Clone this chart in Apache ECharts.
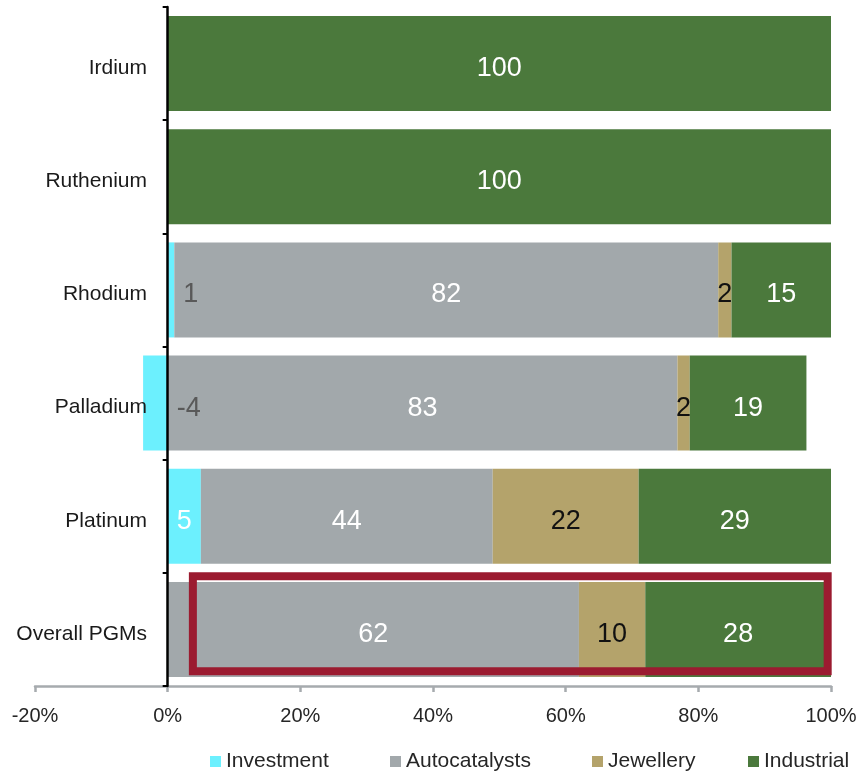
<!DOCTYPE html>
<html>
<head>
<meta charset="utf-8">
<script src="https://cdn.jsdelivr.net/npm/echarts@6/dist/echarts.min.js"></script>
<style>
  html, body { margin: 0; padding: 0; background: #ffffff; }
  #chart { width: 860px; height: 772px; }
</style>
</head>
<body>
<div id="chart"></div>
<script>
// Demand split by end use, per metal (raw shares, %)
const metals = ['Irdium', 'Ruthenium', 'Rhodium', 'Palladium', 'Platinum', 'Overall PGMs'];
const investment    = [0, 0, 1, -4, 5, 0];
const autocatalysts = [0, 0, 82, 83, 44, 62];
const jewellery     = [0, 0, 2, 2, 22, 10];
const industrial    = [100, 100, 15, 19, 29, 28];
const xTickValues   = [-20, 0, 20, 40, 60, 80, 100];

const FONT = '"Liberation Sans", Arial, sans-serif';

// 100% stacked layout: each segment is its share of the sum of absolute values
const totals = metals.map((_, i) =>
  Math.abs(investment[i]) + Math.abs(autocatalysts[i]) + Math.abs(jewellery[i]) + Math.abs(industrial[i]));
const share = (arr) => arr.map((v, i) => v / totals[i] * 100);

const seriesDefs = [
  { name: 'Investment',    raw: investment,    color: '#6CF0FE', text: '#ffffff' },
  { name: 'Autocatalysts', raw: autocatalysts, color: '#A2A8AB', text: '#ffffff' },
  { name: 'Jewellery',     raw: jewellery,     color: '#B4A36B', text: '#111111' },
  { name: 'Industrial',    raw: industrial,    color: '#4B793C', text: '#ffffff' }
];

const series = seriesDefs.map(def => {
  const pct = share(def.raw);
  return {
    name: def.name,
    type: 'bar',
    stack: 'total',
    barCategoryGap: '16%',
    itemStyle: { color: def.color },
    emphasis: { disabled: true },
    data: pct.map((p) => {
      const item = { value: p };
      // slim investment slivers get their label just beside the bar
      if (def.name === 'Investment' && Math.abs(p) < 4.5) {
        item.label = { position: 'right', distance: 9, color: '#595959' };
      }
      return item;
    }),
    label: {
      show: true,
      position: 'inside',
      offset: [0, 5],
      color: def.text,
      fontFamily: FONT,
      fontSize: 27,
      formatter: (params) => {
        const v = def.raw[params.dataIndex];
        return v === 0 ? '' : String(v);
      }
    }
  };
});

const chart = echarts.init(document.getElementById('chart'), null, { renderer: 'canvas' });

const legendLeft = [205, 385, 587, 743];
const legends = seriesDefs.map((def, k) => ({
  data: [def.name],
  left: legendLeft[k],
  top: 746,
  itemWidth: 11,
  itemHeight: 11,
  icon: 'rect',
  selectedMode: false,
  textStyle: { fontFamily: FONT, fontSize: 21, color: '#262626' }
}));

chart.setOption({
  animation: false,
  backgroundColor: '#ffffff',
  grid: { left: 35, right: 29, top: 7, bottom: 86, outerBoundsMode: 'none' },
  legend: legends,
  xAxis: {
    type: 'value',
    min: xTickValues[0],
    max: xTickValues[xTickValues.length - 1],
    interval: xTickValues[1] - xTickValues[0],
    splitLine: { show: false },
    axisLine: { show: true, lineStyle: { color: '#A6ABAE', width: 2.5 } },
    axisTick: { show: true, length: 6, lineStyle: { color: '#A6ABAE', width: 2.5 } },
    axisLabel: {
      margin: 20,
      fontFamily: FONT,
      fontSize: 20,
      color: '#262626',
      formatter: (v) => v + '%'
    }
  },
  yAxis: {
    type: 'category',
    data: metals,
    inverse: true,
    z: 10,
    axisLine: { show: true, onZero: true, lineStyle: { color: '#000000', width: 2.5 } },
    axisTick: { show: true, length: 5, lineStyle: { color: '#000000', width: 2 } },
    axisLabel: {
      // labels sit just left of the zero line rather than at the grid edge
      margin: -112,
      verticalAlign: 'top',
      lineHeight: 9,
      fontFamily: FONT,
      fontSize: 21,
      color: '#1a1a1a'
    }
  },
  series: series
});

// Highlight frame round the overall PGM bar
const hlFrom = 3.8, hlTo = 99.5;
const yOverall = chart.convertToPixel({ yAxisIndex: 0 }, 'Overall PGMs');
const yPrev = chart.convertToPixel({ yAxisIndex: 0 }, 'Platinum');
const band = Math.abs(yOverall - yPrev);
const x0 = chart.convertToPixel({ xAxisIndex: 0 }, hlFrom);
const x1 = chart.convertToPixel({ xAxisIndex: 0 }, hlTo);
chart.setOption({
  graphic: [{
    type: 'rect',
    z: 100,
    shape: { x: x0, y: yOverall - band * 0.47, width: x1 - x0, height: band * 0.84 },
    style: { fill: null, stroke: '#9B1B30', lineWidth: 8 }
  }]
});
</script>
</body>
</html>
